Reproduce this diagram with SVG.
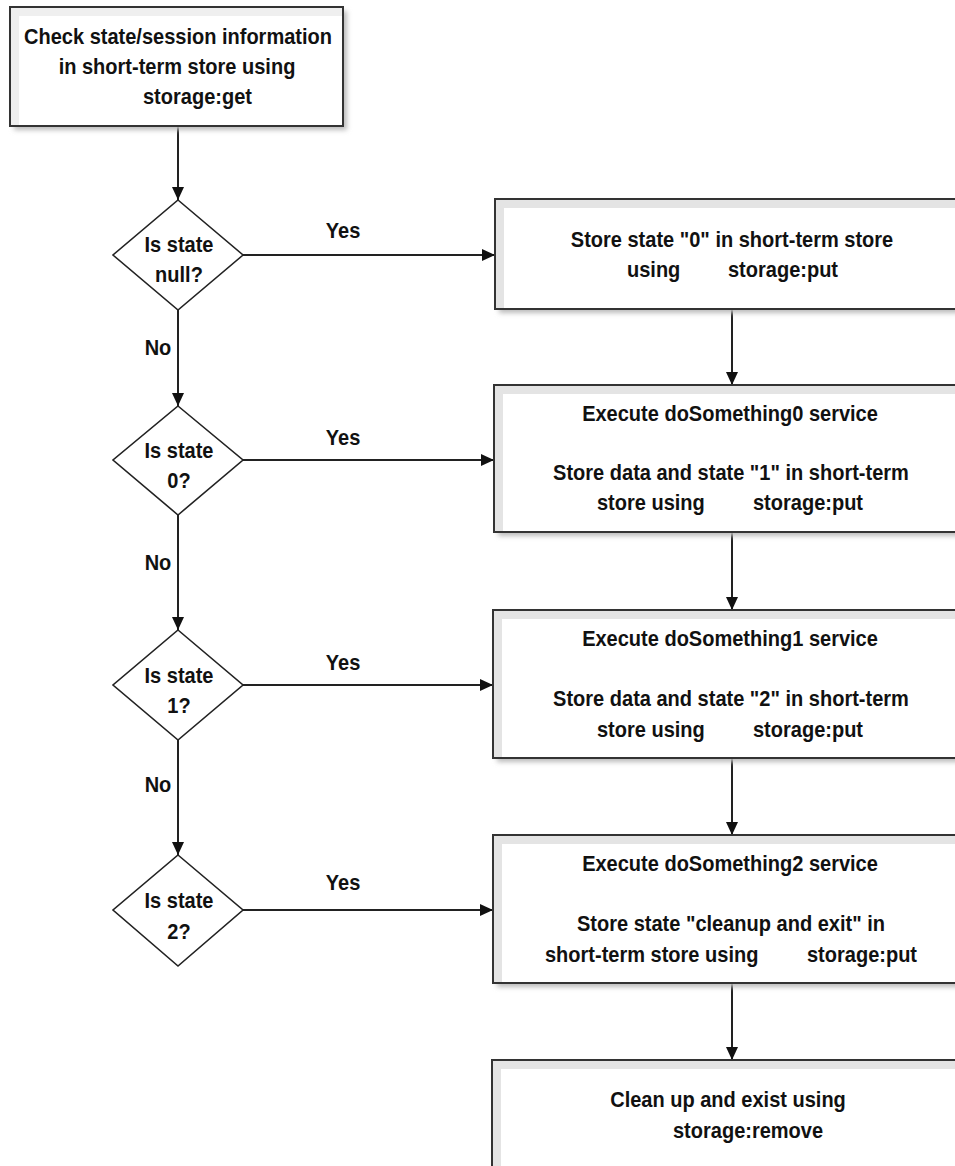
<svg xmlns="http://www.w3.org/2000/svg" width="955" height="1166" viewBox="0 0 955 1166">
<style>
text{font-family:"Liberation Sans",Arial,sans-serif;font-weight:bold;font-size:22px;fill:#111}
.c{text-anchor:middle}
.box{fill:#fff;stroke:#333;stroke-width:2}
.band{fill:none;stroke:#e4e4e4;stroke-width:8}
.shadow{fill:#bbb;filter:url(#blur)}
.dia{fill:#fff;stroke:#222;stroke-width:1.6}
.ln{fill:none;stroke:#222;stroke-width:2;marker-end:url(#ah)}
</style>
<defs>
<filter id="blur" x="-10%" y="-10%" width="120%" height="120%"><feGaussianBlur stdDeviation="2.5"/></filter>
<marker id="ah" markerWidth="13" markerHeight="12" refX="13" refY="6" orient="auto" markerUnits="userSpaceOnUse"><path d="M0,0 L13,6 L0,12 Z" fill="#111"/></marker>
</defs>
<rect width="955" height="1166" fill="#fff"/>

<g id="connectors">
<line class="ln" x1="178" y1="127" x2="178" y2="200"/>
<line class="ln" x1="243" y1="255" x2="495" y2="255"/>
<line class="ln" x1="178" y1="310" x2="178" y2="406"/>
<line class="ln" x1="243" y1="460" x2="494" y2="460"/>
<line class="ln" x1="178" y1="515" x2="178" y2="630"/>
<line class="ln" x1="243" y1="685" x2="493" y2="685"/>
<line class="ln" x1="178" y1="740" x2="178" y2="855"/>
<line class="ln" x1="243" y1="910" x2="493" y2="910"/>
<line class="ln" x1="732" y1="310" x2="732" y2="385"/>
<line class="ln" x1="732" y1="533" x2="732" y2="610"/>
<line class="ln" x1="732" y1="759" x2="732" y2="835"/>
<line class="ln" x1="732" y1="984" x2="732" y2="1060"/>
<text class="c" transform="translate(343,238) scale(0.91,1)">Yes</text>
<text class="c" transform="translate(343,445) scale(0.91,1)">Yes</text>
<text class="c" transform="translate(343,670) scale(0.91,1)">Yes</text>
<text class="c" transform="translate(343,890) scale(0.91,1)">Yes</text>
<text class="c" transform="translate(158,355) scale(0.91,1)">No</text>
<text class="c" transform="translate(158,570) scale(0.91,1)">No</text>
<text class="c" transform="translate(158,792) scale(0.91,1)">No</text>
</g>

<g id="start">
<rect class="shadow" x="14" y="11" width="333" height="119"/>
<rect class="box" x="10" y="7" width="333" height="119"/>
<path class="band" d="M15,126 V12 H343" stroke-width="6" opacity="0.6"/>
<rect x="10" y="7" width="333" height="119" fill="none" stroke="#333" stroke-width="2"/>
<text class="c" transform="translate(178,44) scale(0.91,1)">Check state/session information</text>
<text class="c" transform="translate(177,74) scale(0.91,1)">in short-term store using</text>
<text transform="translate(143,104) scale(0.91,1)">storage:get</text>
</g>

<g id="d1">
<polygon class="dia" points="178,200 243,255 178,310 113,255"/>
<text class="c" transform="translate(179,252) scale(0.91,1)">Is state</text>
<text class="c" transform="translate(179,282) scale(0.91,1)">null?</text>
</g>
<g id="d2">
<polygon class="dia" points="178,406 243,460 178,515 113,460"/>
<text class="c" transform="translate(179,458) scale(0.91,1)">Is state</text>
<text class="c" transform="translate(179,488) scale(0.91,1)">0?</text>
</g>
<g id="d3">
<polygon class="dia" points="178,630 243,685 178,740 113,685"/>
<text class="c" transform="translate(179,683) scale(0.91,1)">Is state</text>
<text class="c" transform="translate(179,713) scale(0.91,1)">1?</text>
</g>
<g id="d4">
<polygon class="dia" points="178,855 243,910 178,966 113,910"/>
<text class="c" transform="translate(179,908) scale(0.91,1)">Is state</text>
<text class="c" transform="translate(179,939) scale(0.91,1)">2?</text>
</g>

<g id="b1">
<rect class="shadow" x="499" y="203" width="500" height="110"/>
<rect class="box" x="495" y="199" width="500" height="110"/>
<path class="band" d="M500,309 V204 H995"/>
<rect x="495" y="199" width="500" height="110" fill="none" stroke="#333" stroke-width="2"/>
<text class="c" transform="translate(732,247) scale(0.91,1)">Store state "0" in short-term store</text>
<text transform="translate(627,277) scale(0.91,1)">using</text>
<text transform="translate(728,277) scale(0.91,1)">storage:put</text>
</g>

<g id="b2">
<rect class="shadow" x="498" y="389" width="500" height="147"/>
<rect class="box" x="494" y="385" width="500" height="147"/>
<path class="band" d="M499,532 V390 H994"/>
<rect x="494" y="385" width="500" height="147" fill="none" stroke="#333" stroke-width="2"/>
<text class="c" transform="translate(730,421) scale(0.91,1)">Execute doSomething0 service</text>
<text class="c" transform="translate(731,480) scale(0.91,1)">Store data and state "1" in short-term</text>
<text transform="translate(597,510) scale(0.91,1)">store using</text>
<text transform="translate(753,510) scale(0.91,1)">storage:put</text>
</g>

<g id="b3">
<rect class="shadow" x="497" y="614" width="500" height="148"/>
<rect class="box" x="493" y="610" width="500" height="148"/>
<path class="band" d="M498,758 V615 H993"/>
<rect x="493" y="610" width="500" height="148" fill="none" stroke="#333" stroke-width="2"/>
<text class="c" transform="translate(730,646) scale(0.91,1)">Execute doSomething1 service</text>
<text class="c" transform="translate(731,706) scale(0.91,1)">Store data and state "2" in short-term</text>
<text transform="translate(597,737) scale(0.91,1)">store using</text>
<text transform="translate(753,737) scale(0.91,1)">storage:put</text>
</g>

<g id="b4">
<rect class="shadow" x="497" y="839" width="500" height="148"/>
<rect class="box" x="493" y="835" width="500" height="148"/>
<path class="band" d="M498,983 V840 H993"/>
<rect x="493" y="835" width="500" height="148" fill="none" stroke="#333" stroke-width="2"/>
<text class="c" transform="translate(730,871) scale(0.91,1)">Execute doSomething2 service</text>
<text class="c" transform="translate(731,931) scale(0.91,1)">Store state "cleanup and exit" in</text>
<text transform="translate(545,962) scale(0.91,1)">short-term store using</text>
<text transform="translate(807,962) scale(0.91,1)">storage:put</text>
</g>

<g id="b5">
<rect class="shadow" x="496" y="1064" width="500" height="150"/>
<rect class="box" x="492" y="1060" width="500" height="150"/>
<path class="band" d="M497,1210 V1065 H992"/>
<rect x="492" y="1060" width="500" height="150" fill="none" stroke="#333" stroke-width="2"/>
<text class="c" transform="translate(728,1107) scale(0.91,1)">Clean up and exist using</text>
<text transform="translate(673,1138) scale(0.91,1)">storage:remove</text>
</g>
</svg>
